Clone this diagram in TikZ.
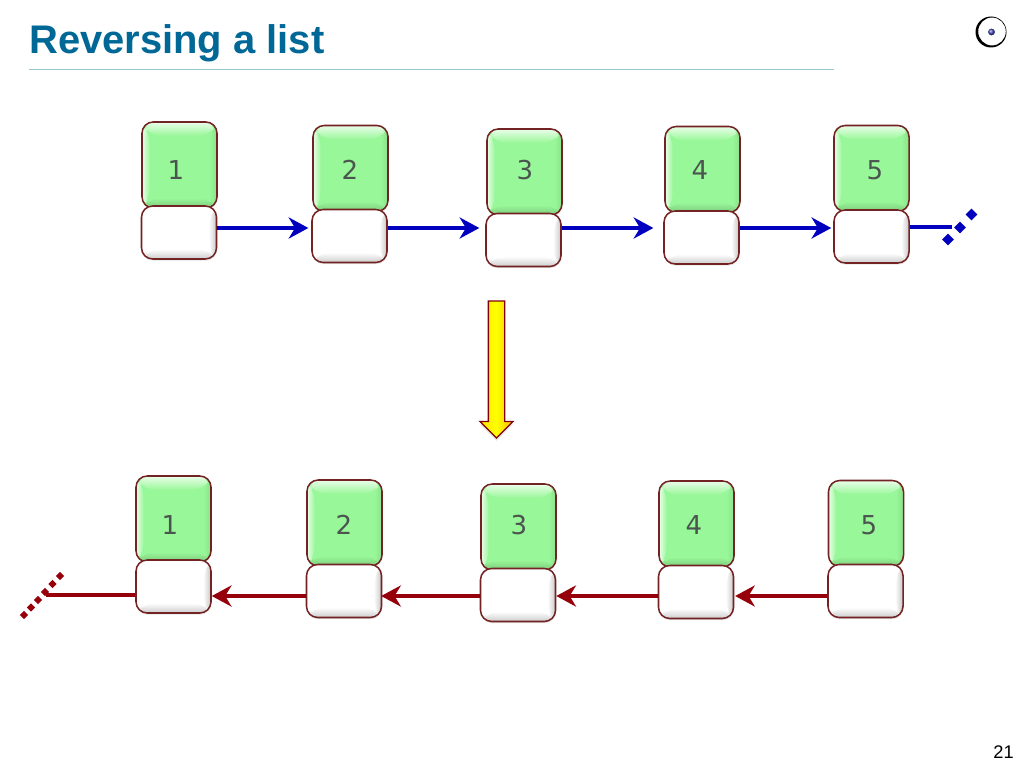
\documentclass[tikz,border=0pt]{standalone}
\usepackage{fontspec}
\setmainfont{Liberation Sans}
\newfontfamily\digitfont{DejaVu Sans}
\usetikzlibrary{shapes.geometric, shapes.arrows, arrows.meta, shadows}
\definecolor{titleblue}{RGB}{0, 104, 150}
\definecolor{ruleteal}{RGB}{150, 200, 210}
\definecolor{boxred}{RGB}{115, 35, 35}
\definecolor{itemgreen}{RGB}{152, 247, 152}
\definecolor{nextblue}{RGB}{0, 0, 190}
\definecolor{prevred}{RGB}{150, 0, 10}
\definecolor{digitgray}{RGB}{75, 85, 80}

\begin{document}
\begin{tikzpicture}[
    x=0.025cm, y=-0.025cm,
    bevel/.style n args={4}{path picture={
        \path (path picture bounding box.north west) coordinate (nw)
              (path picture bounding box.north east) coordinate (ne)
              (path picture bounding box.south east) coordinate (se)
              (path picture bounding box.south west) coordinate (sw);
        \shade[left color=#2, right color=#1] (nw) -- (sw) -- ([shift={(8,-10)}]sw) -- ([shift={(8,14)}]nw) -- cycle;
        \shade[right color=#3, left color=#1] (ne) -- (se) -- ([shift={(-8,-10)}]se) -- ([shift={(-8,14)}]ne) -- cycle;
        \shade[bottom color=#4, top color=#1] (sw) -- (se) -- ([shift={(-8,-10)}]se) -- ([shift={(8,-10)}]sw) -- cycle;
        \shade[top color=#2, bottom color=#1] (nw) -- (ne) -- ([shift={(-8,14)}]ne) -- ([shift={(8,14)}]nw) -- cycle;
    }},
    itembox/.style={rectangle, draw=boxred, line width=1.1pt, fill=itemgreen,
                    minimum width=1.875cm, minimum height=2.15cm, inner sep=0pt,
                    rounded corners=8pt,
                    drop shadow={opacity=0.2, shadow xshift=0.3pt, shadow yshift=-1.2pt},
                    bevel={itemgreen}{itemgreen!20!white}{itemgreen!92!black}{itemgreen!82!black}},
    valbox/.style={rectangle, draw=boxred, line width=1.1pt, fill=white,
                   minimum width=1.875cm, minimum height=1.325cm, inner sep=0pt,
                   rounded corners=8pt,
                   drop shadow={opacity=0.2, shadow xshift=0.3pt, shadow yshift=-1.2pt},
                   bevel={white}{white}{black!22}{black!20}},
    digit/.style={inner sep=0pt, text=digitgray, font=\digitfont\fontsize{18.5}{20}\selectfont},
    fl/.style={-{Stealth[length=14pt, width=15pt, inset=4.5pt]}, line width=2.8pt, shorten >=#1},
    fl/.default=1pt,
    endfl/.style={line width=2.8pt},
    voidmark/.style={diamond, fill=#1, inner sep=0pt, minimum size=8.5pt},
    voidsmall/.style={diamond, fill=#1, inner sep=0pt, minimum size=6pt},
    bigarrow/.style={single arrow, draw=prevred!85!black, line width=0.9pt,
                     left color=yellow!80!orange, right color=yellow!45!orange, middle color=yellow,
                     minimum height=3.425cm, inner xsep=0pt, inner ysep=0.1875cm,
                     single arrow head extend=0.2125cm, single arrow tip angle=90,
                     drop shadow={opacity=0.2, shadow xshift=0pt, shadow yshift=-2pt}}
]
\useasboundingbox (0,0) rectangle (1024,768);
\fill[white] (0,0) rectangle (1024,768);

% Title
\node[anchor=west, inner sep=0pt, text=titleblue, font=\bfseries\fontsize{28.4}{30}\selectfont] (title) at (29,43) {Reversing a list};
\coordinate (rulestart) at (29,69);
\coordinate (ruleend) at (834,69);
\draw[ruleteal, line width=0.6pt] (rulestart) -- (ruleend);

% Logo
\fill[black, even odd rule] (991,32) ellipse [x radius=15.5, y radius=15.5]
    (992,31.5) ellipse [x radius=13.8, y radius=14];
\shade[ball color=blue!45!gray] (991.5,32) circle (3.4);

\node[anchor=east, inner sep=0pt, font=\fontsize{13}{15}\selectfont] (page) at (1014,752) {21};

% Upper list
\node[itembox] (a1) at (179.5,165) {};
\node[valbox]  (p1) at (179,232.5) {};
\node[itembox] (a2) at (350.5,168.5) {};
\node[valbox]  (p2) at (349.5,236) {};
\node[itembox] (a3) at (524.5,172) {};
\node[valbox]  (p3) at (523.5,240) {};
\node[itembox] (a4) at (702.5,169.5) {};
\node[valbox]  (p4) at (701.5,237.5) {};
\node[itembox] (a5) at (871.5,168.5) {};
\node[valbox]  (p5) at (871.5,236.5) {};
\node[digit] (t1) at (176,170) {1};
\node[digit] (t2) at (350,170) {2};
\node[digit] (t3) at (525,170) {3};
\node[digit] (t4) at (700,170) {4};
\node[digit] (t5) at (875,170) {5};

% Upper links
\coordinate (upline) at (0,228);
\coordinate (upend) at (952,227);
\draw[fl=2pt, nextblue] (p1.east |- upline) -- (p2.west |- upline);
\draw[fl=4.2pt, nextblue] (p2.east |- upline) -- (p3.west |- upline);
\draw[fl=7pt, nextblue] (p3.east |- upline) -- (p4.west |- upline);
\draw[fl=1.4pt, nextblue] (p4.east |- upline) -- (p5.west |- upline);
\draw[endfl, nextblue] (p5.east |- upend) -- (upend);
\node[voidmark=nextblue] (u1) at (948,239.5) {};
\node[voidmark=nextblue] (u2) at (960,227.5) {};
\node[voidmark=nextblue] (u3) at (971.5,214.5) {};

% Middle arrow
\node[bigarrow, rotate=-90] (turn) at (496.5,365.5) {};

% Lower list
\node[itembox] (b1) at (173.5,519) {};
\node[valbox]  (q1) at (173.5,586.5) {};
\node[itembox] (b2) at (344.5,523) {};
\node[valbox]  (q2) at (344,591) {};
\node[itembox] (b3) at (518.5,527) {};
\node[valbox]  (q3) at (518,595) {};
\node[itembox] (b4) at (696.5,524) {};
\node[valbox]  (q4) at (696,592) {};
\node[itembox] (b5) at (866,523.5) {};
\node[valbox]  (q5) at (865.5,591) {};
\node[digit] (s1) at (170,525) {1};
\node[digit] (s2) at (344,525) {2};
\node[digit] (s3) at (519,525) {3};
\node[digit] (s4) at (694,525) {4};
\node[digit] (s5) at (869,525) {5};

% Lower links
\coordinate (lowline) at (0,596);
\coordinate (lowend) at (46,595);
\draw[fl=0.6pt, prevred] (q5.west |- lowline) -- (q4.east |- lowline);
\draw[fl=0pt, prevred] (q4.west |- lowline) -- (q3.east |- lowline);
\draw[fl=-0.8pt, prevred] (q3.west |- lowline) -- (q2.east |- lowline);
\draw[fl=0pt, prevred] (q2.west |- lowline) -- (q1.east |- lowline);
\draw[endfl, prevred] (q1.west |- lowend) -- (lowend);
\node[voidsmall=prevred] (v1) at (24,615) {};
\node[voidsmall=prevred] (v2) at (31,607.5) {};
\node[voidsmall=prevred] (v3) at (38,600) {};
\node[voidsmall=prevred] (v4) at (45,592) {};
\node[voidsmall=prevred] (v5) at (52.5,584) {};
\node[voidsmall=prevred] (v6) at (60,576) {};

\end{tikzpicture}
\end{document}
